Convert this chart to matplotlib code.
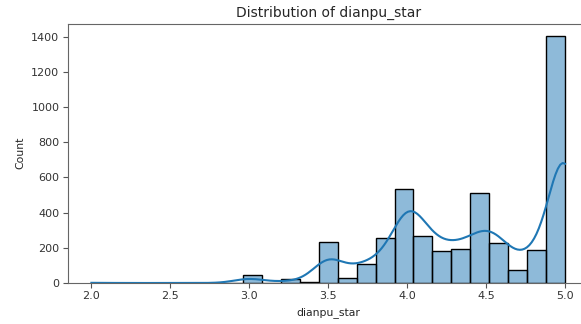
import numpy as np
import pandas as pd
import matplotlib
matplotlib.use("Agg")
import matplotlib.pyplot as plt
import seaborn as sns

# star ratings and how many shops have each (read off the histogram,
# bins holding two ratings split by eye)
ratings = [2.0, 3.0, 3.2, 3.3, 3.4, 3.5, 3.6, 3.7, 3.8, 3.9, 4.0,
           4.1, 4.2, 4.3, 4.4, 4.5, 4.6, 4.7, 4.8, 4.9, 5.0]
counts = [2, 45, 8, 13, 5, 233, 27, 106, 110, 147, 532,
          267, 182, 196, 200, 311, 229, 74, 188, 160, 1245]

bin_edges = np.round(np.linspace(2.0, 5.0, 26), 2)

df = pd.DataFrame({"dianpu_star": np.repeat(ratings, counts)})

plt.rcParams["font.family"] = ["DejaVu Sans"]
plt.rcParams["text.color"] = "#262626"
plt.rcParams["axes.labelcolor"] = "#262626"

fig = plt.figure(figsize=(5.81, 3.24), dpi=100)
# axes runs a little past the right edge, like the cropped screenshot
ax = fig.add_axes([67.7 / 581, 41 / 324, 521 / 581, 259.5 / 324])

sns.histplot(data=df, x="dianpu_star", bins=bin_edges, kde=True, ax=ax)

ax.set_title("Distribution of dianpu_star", fontsize=10, pad=5)
ax.set_xlabel("dianpu_star", fontsize=7.8)
ax.set_ylabel("Count", fontsize=7.8)
ax.tick_params(labelsize=8, color="#555555", labelcolor="#333333",
               length=3.5, pad=2.5)
for s in ax.spines.values():
    s.set_color("#666666")

fig.savefig("out.png", dpi=100)
